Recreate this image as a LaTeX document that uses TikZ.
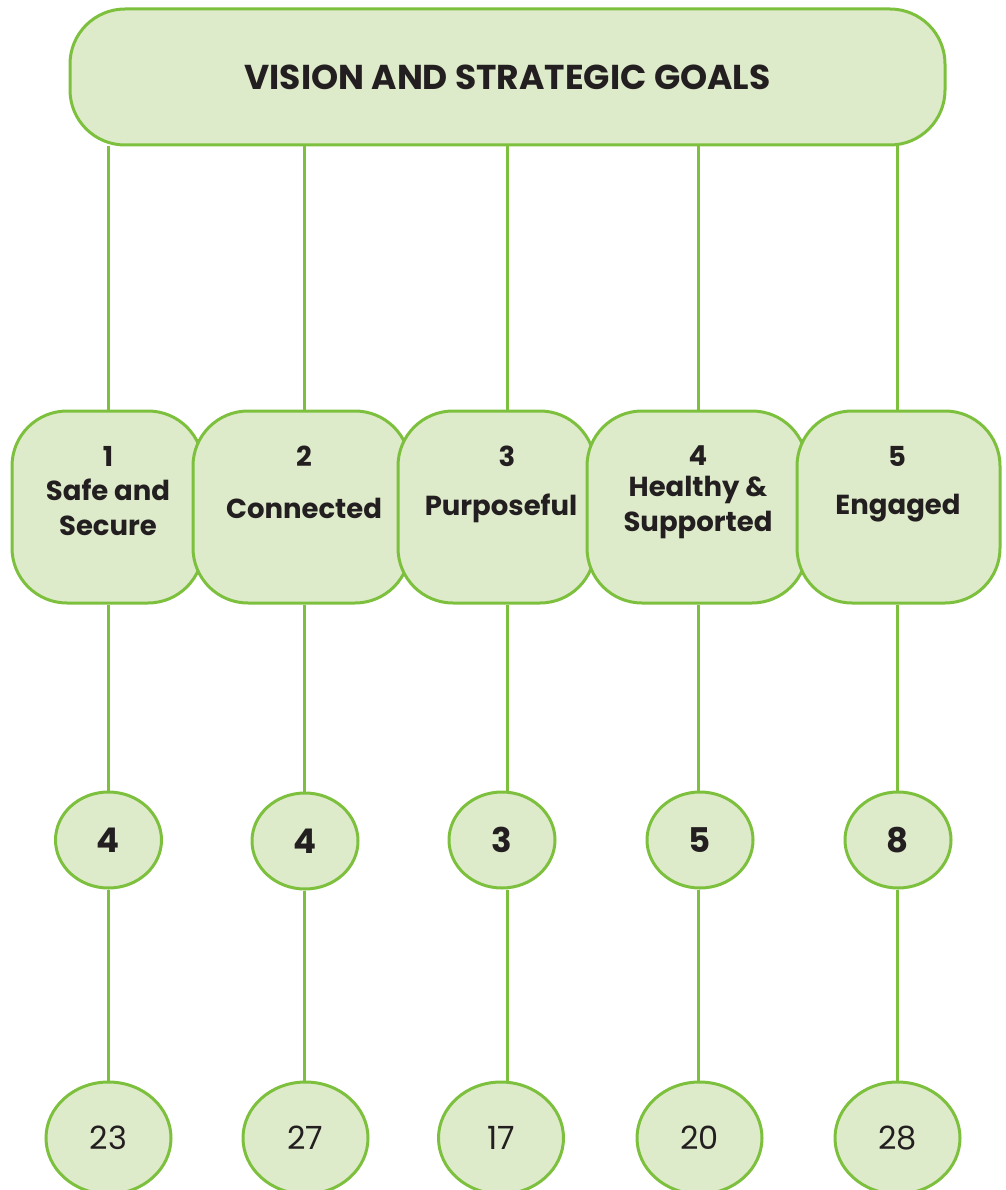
\documentclass[tikz,border=0pt]{standalone}
\usepackage{fontspec}
\setmainfont{Poppins}
\usetikzlibrary{shapes.geometric}

\definecolor{leaf}{RGB}{124,192,62}
\definecolor{pale}{RGB}{222,235,202}
\definecolor{ink}{RGB}{35,31,32}

\begin{document}
\begin{tikzpicture}[x=1pt,y=-1pt]
	\tikzset{goalbox/.style={draw=leaf,fill=pale,line width=3pt,rounded corners=55pt,minimum height=192pt,inner sep=0pt},
		countcirc/.style={ellipse,draw=leaf,fill=pale,line width=3pt,inner sep=0pt,minimum width=106pt,minimum height=96pt,
			text=ink,font=\fontsize{34}{40}\selectfont\bfseries},
		totalcirc/.style={countcirc,minimum width=125pt,minimum height=112pt,font=\fontsize{32}{38}\selectfont},
		goalnum/.style={text=ink,inner sep=0pt,font=\fontsize{27.5}{35}\selectfont\bfseries},
		goalname/.style={goalnum,align=center},
		link/.style={draw=leaf,line width=3pt}}
	\useasboundingbox (0,0) rectangle (1005,1190);

	%% vision
	\node[goalbox,minimum width=875pt,minimum height=136pt,text=ink,font=\fontsize{34.5}{40}\selectfont\bfseries] (vision) at (507.5,77) {VISION AND STRATEGIC GOALS};

	%% goal boxes
	\node[goalbox,minimum width=191pt] (b1) at (107.5,507) {};
	\node[goalbox,minimum width=217pt] (b2) at (301.5,507) {};
	\node[goalbox,minimum width=197pt] (b3) at (496.5,507) {};
	\node[goalbox,minimum width=220pt] (b4) at (697,507) {};
	\node[goalbox,minimum width=203pt] (b5) at (898.5,507) {};

	\node[goalnum] (n1) at (108,456) {1};
	\node[goalnum] (n2) at (304,456) {2};
	\node[goalnum] (n3) at (507,456) {3};
	\node[goalnum] (n4) at (698,456) {4};
	\node[goalnum] (n5) at (897,456) {5};

	\node[goalname] (g1) at (108,507) {Safe and\\Secure};
	\node[goalname] (g2) at (304,508) {Connected};
	\node[goalname] (g3) at (501,508) {Purposeful};
	\node[goalname] (g4) at (698,507) {Healthy \&\\Supported};
	\node[goalname] (g5) at (898,508) {Engaged};

	%% counts
	\node[countcirc] (c1) at (108.5,840) {4};
	\node[countcirc] (c2) at (305,841) {4};
	\node[countcirc] (c3) at (502,840) {3};
	\node[countcirc] (c4) at (700,840) {5};
	\node[countcirc] (c5) at (898,840) {8};

	%% totals
	\node[totalcirc] (t1) at (108.5,1138) {23};
	\node[totalcirc] (t2) at (305.5,1138) {27};
	\node[totalcirc] (t3) at (501,1138) {17};
	\node[totalcirc] (t4) at (699.5,1138) {20};
	\node[totalcirc] (t5) at (897.5,1138) {28};

	\path[link]
		(vision.south -| n1) edge (b1.north -| n1)
		(vision.south -| n2) edge (b2.north -| n2)
		(vision.south -| n3) edge (b3.north -| n3)
		(vision.south -| n4) edge (b4.north -| n4)
		(vision.south -| n5) edge (b5.north -| n5)
		(b1.south -| n1) edge (c1.north -| n1)
		(b2.south -| n2) edge (c2.north -| n2)
		(b3.south -| n3) edge (c3.north -| n3)
		(b4.south -| n4) edge (c4.north -| n4)
		(b5.south -| n5) edge (c5.north -| n5)
		(c1.south -| n1) edge (t1.north -| n1)
		(c2.south -| n2) edge (t2.north -| n2)
		(c3.south -| n3) edge (t3.north -| n3)
		(c4.south -| n4) edge (t4.north -| n4)
		(c5.south -| n5) edge (t5.north -| n5);
\end{tikzpicture}
\end{document}
